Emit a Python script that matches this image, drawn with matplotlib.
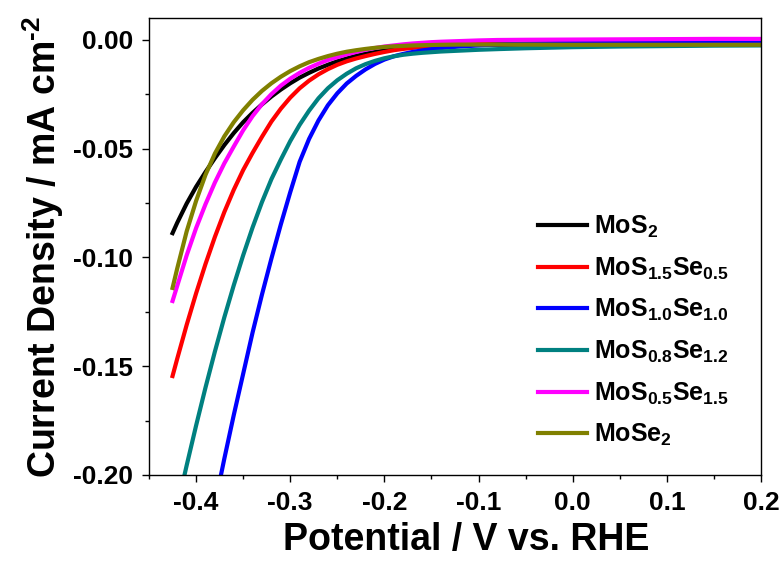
import matplotlib
matplotlib.use('Agg')
import matplotlib.pyplot as plt
from matplotlib.ticker import MultipleLocator, FormatStrFormatter

plt.rcParams['font.family'] = ['Liberation Sans', 'DejaVu Sans']
plt.rcParams['font.weight'] = 'bold'
plt.rcParams['mathtext.fontset'] = 'custom'
plt.rcParams['mathtext.bf'] = 'Liberation Sans:bold'
plt.rcParams['mathtext.rm'] = 'Liberation Sans:bold'
plt.rcParams['mathtext.default'] = 'bf'

# potential (V vs. RHE)
potential = [-0.425, -0.42, -0.41, -0.40, -0.39, -0.38, -0.37, -0.36, -0.35, -0.34,
             -0.33, -0.32, -0.31, -0.30, -0.29, -0.28, -0.27, -0.26, -0.25, -0.24,
             -0.23, -0.22, -0.21, -0.20, -0.19, -0.18, -0.17, -0.16, -0.15, -0.14,
             -0.12, -0.10, -0.08, -0.05, 0.0, 0.05, 0.10, 0.15, 0.20]

# current density (mA cm^-2)
j_mos2 = [-0.0888, -0.0840, -0.0752, -0.0675, -0.0607, -0.0543, -0.0483, -0.0428, -0.0378, -0.0335,
          -0.0296, -0.0260, -0.0228, -0.0199, -0.0173, -0.0151, -0.0131, -0.0114, -0.0098, -0.0085,
          -0.0073, -0.0063, -0.0055, -0.0048, -0.0042, -0.0037, -0.0033, -0.0030, -0.0028, -0.0026,
          -0.0024, -0.0023, -0.0022, -0.0021, -0.0021, -0.0020, -0.0020, -0.0020, -0.0019]
j_s15se05 = [-0.1545, -0.1465, -0.1310, -0.1165, -0.1030, -0.0905, -0.0791, -0.0689, -0.0598, -0.0519,
             -0.0445, -0.0375, -0.0316, -0.0265, -0.0222, -0.0187, -0.0158, -0.0134, -0.0114, -0.0098,
             -0.0085, -0.0074, -0.0064, -0.0055, -0.0047, -0.0041, -0.0036, -0.0032, -0.0028, -0.0025,
             -0.0021, -0.0019, -0.0018, -0.0017, -0.0016, -0.0015, -0.0015, -0.0014, -0.0014]
j_s10se10 = [-0.312, -0.301, -0.279, -0.257, -0.235, -0.2135, -0.1925, -0.1725, -0.1535, -0.1345,
             -0.1170, -0.1005, -0.0848, -0.0700, -0.0560, -0.0455, -0.0370, -0.0300, -0.0245, -0.0200,
             -0.0165, -0.0135, -0.0110, -0.0090, -0.0075, -0.0064, -0.0055, -0.0048, -0.0042, -0.0037,
             -0.0030, -0.0025, -0.0021, -0.0017, -0.0013, -0.0012, -0.0011, -0.0010, -0.0010]
j_s08se12 = [-0.2240, -0.2146, -0.1956, -0.1773, -0.1598, -0.1432, -0.1275, -0.1128, -0.0990, -0.0862,
             -0.0745, -0.0640, -0.0550, -0.0465, -0.0390, -0.0325, -0.0268, -0.0222, -0.0185, -0.0155,
             -0.0130, -0.0111, -0.0096, -0.0084, -0.0075, -0.0068, -0.0063, -0.0059, -0.0056, -0.0053,
             -0.0049, -0.0045, -0.0042, -0.0038, -0.0033, -0.0030, -0.0028, -0.0026, -0.0025]
j_s05se15 = [-0.1200, -0.1130, -0.0990, -0.0865, -0.0755, -0.0655, -0.0567, -0.0490, -0.0415, -0.0350,
             -0.0295, -0.0249, -0.0210, -0.0178, -0.0151, -0.0128, -0.0109, -0.0092, -0.0079, -0.0066,
             -0.0055, -0.0045, -0.0037, -0.0030, -0.0025, -0.0020, -0.0016, -0.0013, -0.0010, -0.0008,
             -0.0005, -0.0002, 0.0, 0.0001, 0.0002, 0.0003, 0.0004, 0.0005, 0.0005]
j_mose2 = [-0.1140, -0.1050, -0.0880, -0.0740, -0.0620, -0.0522, -0.0443, -0.0378, -0.0323, -0.0275,
           -0.0234, -0.0199, -0.0169, -0.0143, -0.0121, -0.0102, -0.0087, -0.0074, -0.0063, -0.0054,
           -0.0047, -0.0041, -0.0036, -0.0032, -0.0029, -0.0027, -0.0025, -0.0024, -0.0023, -0.0022,
           -0.0021, -0.0021, -0.0021, -0.0021, -0.0022, -0.0022, -0.0022, -0.0022, -0.0022]

labels = ['MoS$_2$', 'MoS$_{1.5}$Se$_{0.5}$', 'MoS$_{1.0}$Se$_{1.0}$',
          'MoS$_{0.8}$Se$_{1.2}$', 'MoS$_{0.5}$Se$_{1.5}$', 'MoSe$_2$']
series = [j_mos2, j_s15se05, j_s10se10, j_s08se12, j_s05se15, j_mose2]
colors = ['black', '#FF0000', '#0000FF', '#008080', '#FF00FF', '#808000']

fig = plt.figure(figsize=(7.83, 5.65), dpi=100)
ax = fig.add_axes([0.1903, 0.1593, 0.7816, 0.8088])

for j, c, lab in zip(series, colors, labels):
    ax.plot(potential, j, color=c, lw=3, label=lab)

ax.set_xlim(-0.45, 0.2)
ax.set_ylim(-0.2, 0.0101)

ax.xaxis.set_major_locator(MultipleLocator(0.1))
ax.xaxis.set_minor_locator(MultipleLocator(0.05))
ax.yaxis.set_major_locator(MultipleLocator(0.05))
ax.yaxis.set_minor_locator(MultipleLocator(0.025))
ax.xaxis.set_major_formatter(FormatStrFormatter('%.1f'))
ax.yaxis.set_major_formatter(FormatStrFormatter('%.2f'))

ax.tick_params(which='major', direction='out', length=5, width=1, labelsize=19, pad=6.5)
ax.tick_params(which='minor', direction='out', length=3, width=1)
for s in ax.spines.values():
    s.set_linewidth(1)

ax.set_xlabel('Potential / V vs. RHE', fontsize=27, fontweight='bold', labelpad=5)
ax.xaxis.label.set_x(0.518)
ax.set_ylabel(r'Current Density / mA cm$^{\text{-2}}$', fontsize=27, fontweight='bold', labelpad=5)

ax.legend(loc='center left', bbox_to_anchor=(0.636, 0.315), frameon=False,
          fontsize=18, borderpad=0, borderaxespad=0, handlelength=1.95,
          handletextpad=0.3, labelspacing=0.62)

fig.savefig('out.png', dpi=100)
